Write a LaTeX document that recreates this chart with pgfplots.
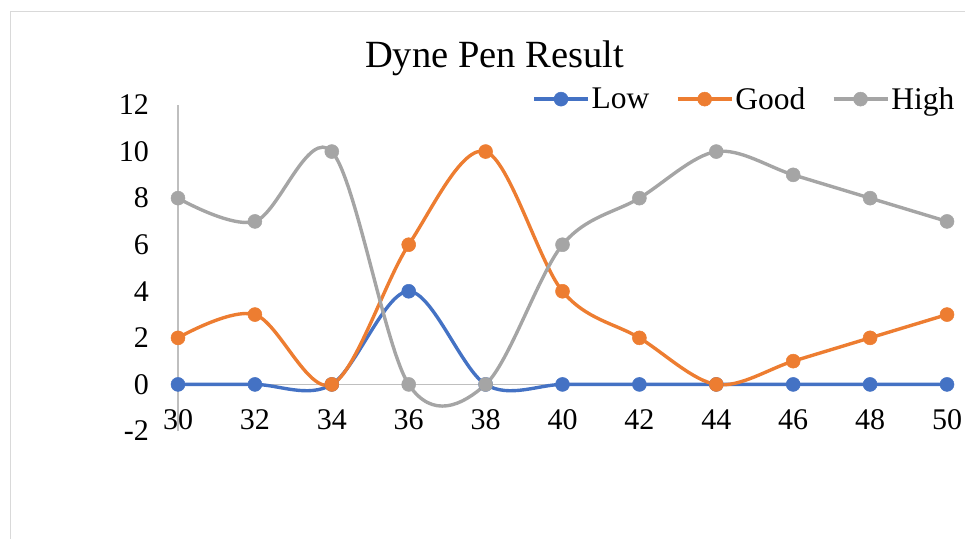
\documentclass[border=0pt]{standalone}
\usepackage{pgfplots}
\pgfplotsset{compat=1.18}
\usepackage{fontspec}
\setmainfont{Liberation Serif}
\definecolor{lowc}{HTML}{4472C4}
\definecolor{goodc}{HTML}{ED7D31}
\definecolor{highc}{HTML}{A5A5A5}
\definecolor{axc}{HTML}{BFBFBF}
\definecolor{framec}{HTML}{D9D9D9}
\begin{document}
\begin{tikzpicture}[x=1pt,y=1pt]
\path[use as bounding box] (0,0) rectangle (965,538);
\draw[framec, line width=1.2pt] (10.5,-5) -- (10.5,526.5) -- (975,526.5);
\begin{axis}[
  at={(178pt,107pt)}, anchor=south west,
  scale only axis, width=769pt, height=326pt,
  xmin=30, xmax=50, ymin=-2, ymax=12,
  xtick={30,32,...,50}, ytick={-2,0,...,12},
  axis line style={draw=none},
  major tick length=0pt,
  tick label style={font=\fontsize{30}{36}\selectfont},
  /pgf/number format/assume math mode=true,
  xticklabel style={anchor=center, yshift=11pt},
  yticklabel style={anchor=east, inner sep=0pt, xshift=-29pt},
  clip=false,
  legend columns=3,
  legend style={draw=none, fill=none, at={(0.4605,1.018)}, anchor=west,
    inner sep=0pt, font=\fontsize{31.5}{37}\selectfont,
    nodes={inner sep=2pt},
    /tikz/every even column/.append style={column sep=24.5pt}},
  legend image code/.code={\draw[mark repeat=2,mark phase=2,#1] plot coordinates {(0pt,0pt) (27pt,0pt) (54pt,0pt)};},
  every axis plot/.append style={line width=3.4pt, smooth, tension=0.55, mark=*, mark size=7pt},
]
\addplot[axc, line width=1.2pt, mark=none, forget plot, sharp plot] coordinates {(30,-2) (30,12)};
\addplot[axc, line width=1.2pt, mark=none, forget plot, sharp plot] coordinates {(30,0) (50,0)};
\addplot[lowc, mark options={fill=lowc, draw=lowc, line width=0.5pt}] coordinates {
(30,0) (32,0) (34,0) (36,4) (38,0) (40,0) (42,0) (44,0) (46,0) (48,0) (50,0)};
\addlegendentry{Low}
\addplot[goodc, mark options={fill=goodc, draw=goodc, line width=0.5pt}] coordinates {
(30,2) (32,3) (34,0) (36,6) (38,10) (40,4) (42,2) (44,0) (46,1) (48,2) (50,3)};
\addlegendentry{Good}
\addplot[highc, mark options={fill=highc, draw=highc, line width=0.5pt}] coordinates {
(30,8) (32,7) (34,10) (36,0) (38,0) (40,6) (42,8) (44,10) (46,9) (48,8) (50,7)};
\addlegendentry{High}
\end{axis}
\node[anchor=base, font=\fontsize{38.5}{46}\selectfont] at (494.5,470) {Dyne Pen Result};
\end{tikzpicture}
\end{document}
